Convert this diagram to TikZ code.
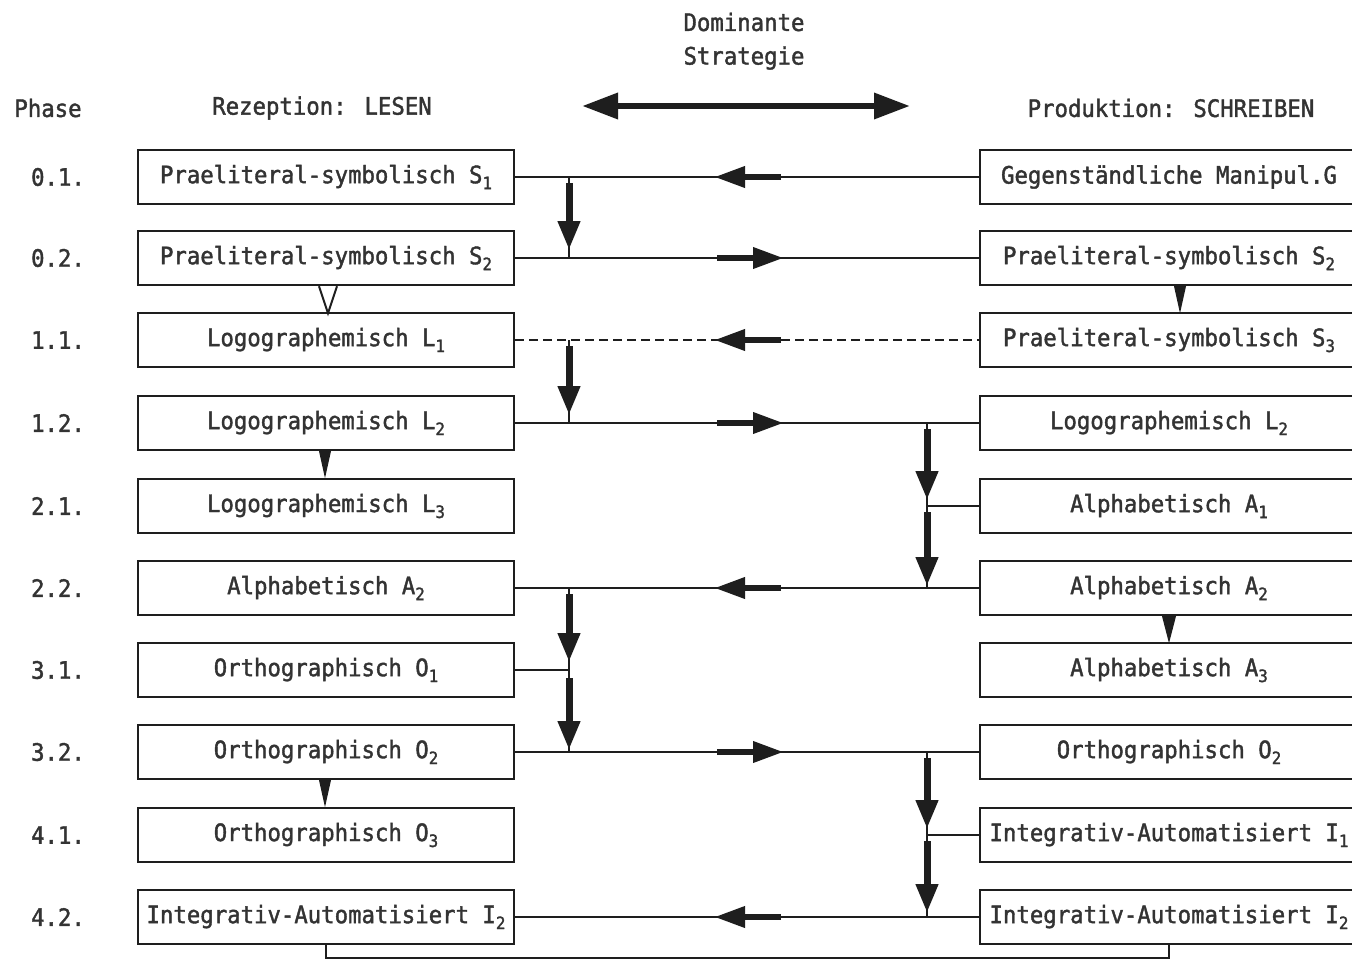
\documentclass[tikz,border=0pt]{standalone}
\usepackage{fontspec}
\newfontfamily\diafont[FakeStretch=0.93,FakeBold=1.6]{DejaVu Sans Mono}
\usetikzlibrary{arrows.meta,calc}
\newcommand\idx[1]{\raisebox{-0.45ex}{\fontsize{17}{17}\selectfont #1}}
\definecolor{ink}{HTML}{1E1E1E}
\definecolor{txt}{HTML}{333333}
\begin{document}
\begin{tikzpicture}[x=1pt,y=-1pt,
  every node/.style={font=\diafont\fontsize{24}{28}\selectfont, text=txt},
  box/.style={draw=ink, line width=2.4pt, minimum height=54pt, inner sep=0pt, fill=white},
  lbox/.style={box, minimum width=376pt},
  rbox/.style={box, minimum width=378pt},
  link/.style={draw=ink, line width=2.2pt},
  fat/.style={draw=ink, line width=7pt, -{Triangle[length=29pt,width=21pt]}},
  hfat/.style={draw=ink, line width=6.5pt, -{Triangle[length=31pt,width=20pt]}},
  label/.style={anchor=center}
]
\clip (0,0) rectangle (1352,961);
\fill[white] (0,0) rectangle (1352,961);

% headings
\node[label] (hphase) at (48,108) {Phase};
\node[label] (hlesen) at (322,108) {Rezeption: LESEN};
\node[label] (hschr) at (1171,108) {Produktion: SCHREIBEN};
\node[label] (hdom) at (744,22) {Dominante};
\node[label] (hstr) at (744,58) {Strategie};
\coordinate (dl) at (582,106);
\coordinate (dr) at (910,106);
\draw[draw=ink, line width=6.5pt, {Triangle[length=36pt,width=25pt]}-{Triangle[length=36pt,width=25pt]}] (dl) -- (dr);

% phase labels
\foreach \p/\y in {0.1./177, 0.2./258, 1.1./340, 1.2./423, 2.1./506, 2.2./588, 3.1./670, 3.2./752, 4.1./835, 4.2./917}
  \node[label] at (58,\y) {\p};

% left boxes
\node[lbox] (L0) at (326,177) {Praeliteral-symbolisch S\idx{1}};
\node[lbox] (L1) at (326,258) {Praeliteral-symbolisch S\idx{2}};
\node[lbox] (L2) at (326,340) {Logographemisch L\idx{1}};
\node[lbox] (L3) at (326,423) {Logographemisch L\idx{2}};
\node[lbox] (L4) at (326,506) {Logographemisch L\idx{3}};
\node[lbox] (L5) at (326,588) {Alphabetisch A\idx{2}};
\node[lbox] (L6) at (326,670) {Orthographisch O\idx{1}};
\node[lbox] (L7) at (326,752) {Orthographisch O\idx{2}};
\node[lbox] (L8) at (326,835) {Orthographisch O\idx{3}};
\node[lbox] (L9) at (326,917) {Integrativ-Automatisiert I\idx{2}};

% right boxes
\node[rbox] (R0) at (1169,177) {Gegenständliche Manipul.G};
\node[rbox] (R1) at (1169,258) {Praeliteral-symbolisch S\idx{2}};
\node[rbox] (R2) at (1169,340) {Praeliteral-symbolisch S\idx{3}};
\node[rbox] (R3) at (1169,423) {Logographemisch L\idx{2}};
\node[rbox] (R4) at (1169,506) {Alphabetisch A\idx{1}};
\node[rbox] (R5) at (1169,588) {Alphabetisch A\idx{2}};
\node[rbox] (R6) at (1169,670) {Alphabetisch A\idx{3}};
\node[rbox] (R7) at (1169,752) {Orthographisch O\idx{2}};
\node[rbox] (R8) at (1169,835) {Integrativ-Automatisiert I\idx{1}};
\node[rbox] (R9) at (1169,917) {Integrativ-Automatisiert I\idx{2}};

% horizontal links
\draw[link] (L0.east) -- (R0.west);
\draw[link] (L1.east) -- (R1.west);
\draw[link, dash pattern=on 9pt off 5pt] (L2.east) -- (R2.west);
\draw[link] (L3.east) -- (R3.west);
\draw[link] (L5.east) -- (R5.west);
\draw[link] (L7.east) -- (R7.west);
\draw[link] (L9.east) -- (R9.west);

% junction coordinates
\foreach \n/\y in {0/177,1/258,2/340,3/423,5/588,6/670,7/752}
  \coordinate (a\n) at (569,\y);
\foreach \n/\y in {3/423,4/506,5/588,7/752,8/835,9/917}
  \coordinate (b\n) at (927,\y);

% vertical links left
\draw[link] (a0) -- (a1);
\draw[link] (a2) -- (a3);
\draw[link] (a5) -- (a7);
\draw[link] (L6.east) -- (a6);
% vertical links right
\draw[link] (b3) -- (b5);
\draw[link] (R4.west) -- (b4);
\draw[link] (b7) -- (b9);
\draw[link] (R8.west) -- (b8);

% thick vertical arrows
\draw[fat] ($(a0)+(0,6)$) -- ($(a1)+(0,-8)$);
\draw[fat] ($(a2)+(0,6)$) -- ($(a3)+(0,-8)$);
\draw[fat] ($(a5)+(0,6)$) -- ($(a6)+(0,-8)$);
\draw[fat] ($(a6)+(0,8)$) -- ($(a7)+(0,-2)$);
\draw[fat] ($(b3)+(0,6)$) -- ($(b4)+(0,-6)$);
\draw[fat] ($(b4)+(0,6)$) -- ($(b5)+(0,-2)$);
\draw[fat] ($(b7)+(0,6)$) -- ($(b8)+(0,-6)$);
\draw[fat] ($(b8)+(0,6)$) -- ($(b9)+(0,-4)$);

% thick horizontal arrows
\draw[hfat] (781,177) -- (714,177);
\draw[hfat] (717,258) -- (784,258);
\draw[hfat] (781,340) -- (714,340);
\draw[hfat] (717,423) -- (784,423);
\draw[hfat] (781,588) -- (714,588);
\draw[hfat] (717,752) -- (784,752);
\draw[hfat] (781,917) -- (714,917);

% small triangles between boxes
\draw[draw=ink, line width=2pt] ($(L1.south)+(-7,0)$) -- ($(L1.south)+(2,27)$) -- ($(L1.south)+(11,0)$);
\fill[ink] ($(L3.south)+(-7,0)$) -- ($(L3.south)+(-1,27)$) -- ($(L3.south)+(5,0)$) -- cycle;
\fill[ink] ($(L7.south)+(-7,0)$) -- ($(L7.south)+(-1,27)$) -- ($(L7.south)+(5,0)$) -- cycle;
\fill[ink] ($(R1.south)+(5,0)$) -- ($(R1.south)+(11,27)$) -- ($(R1.south)+(17,0)$) -- cycle;
\fill[ink] ($(R5.south)+(-7,0)$) -- ($(R5.south)+(0,27)$) -- ($(R5.south)+(7,0)$) -- cycle;

% bottom connector
\draw[link] (L9.south) -- ++(0,13) -| (R9.south);
\end{tikzpicture}
\end{document}
